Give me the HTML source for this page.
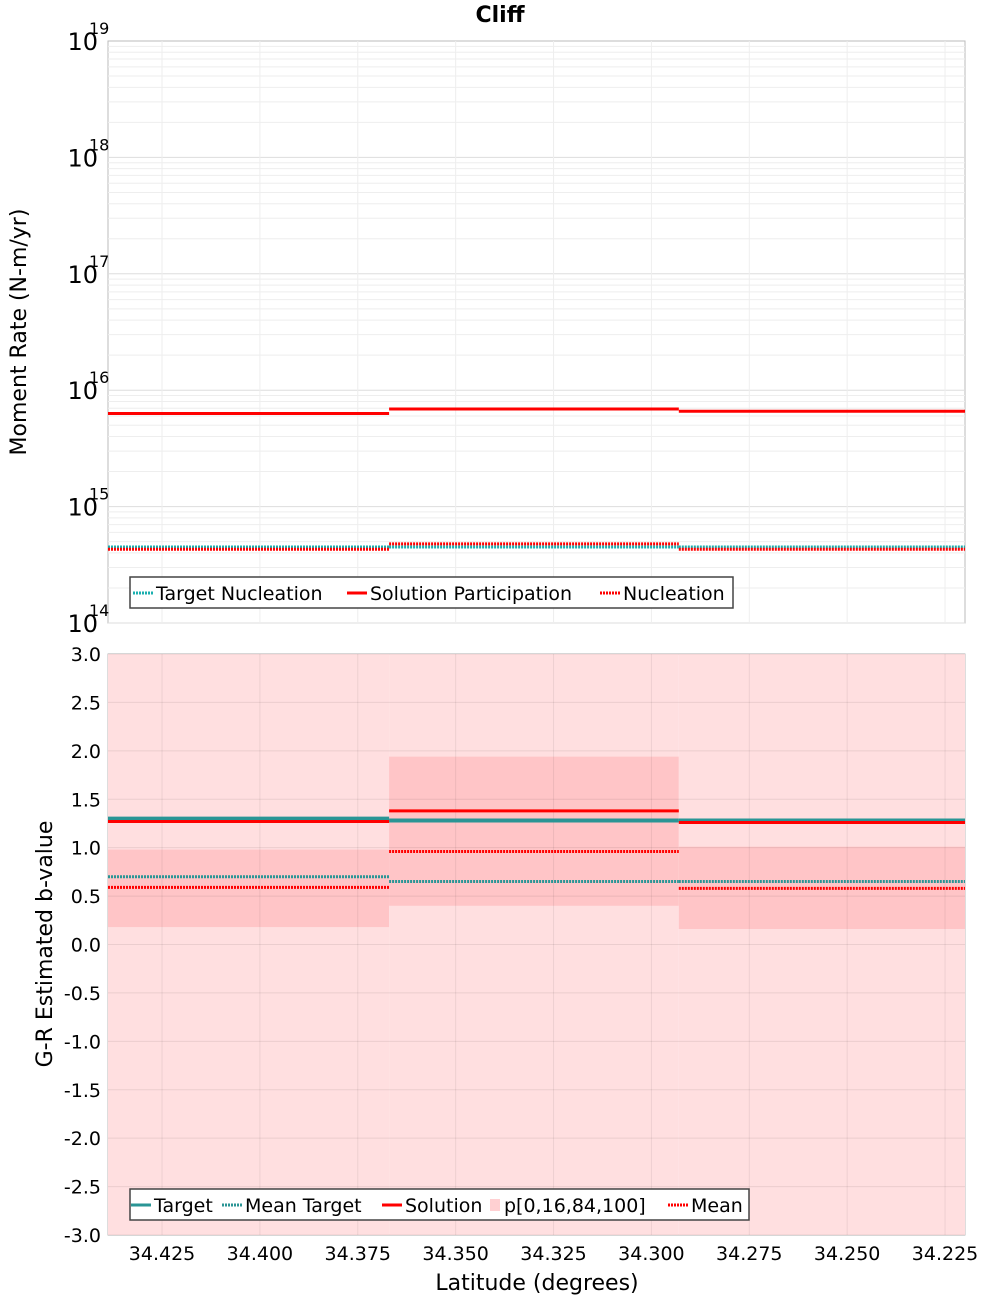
<!DOCTYPE html>
<html><head><meta charset="utf-8"><style>
body{margin:0;background:#fff;font-family:"Liberation Sans","DejaVu Sans",sans-serif}
svg text{font-family:"DejaVu Sans","Liberation Sans",sans-serif}
</style></head><body>
<svg id="c" width="1000" height="1300" xmlns="http://www.w3.org/2000/svg">
<text x="500" y="22" text-anchor="middle" font-size="22" font-weight="bold">Cliff</text>
<text transform="translate(26,332) rotate(-90)" text-anchor="middle" font-size="22">Moment Rate (N-m/yr)</text>
<text transform="translate(52,944) rotate(-90)" text-anchor="middle" font-size="22">G-R Estimated b-value</text>
<text x="537" y="1290" text-anchor="middle" font-size="22">Latitude (degrees)</text>
<g id="topg"></g><g id="botg"></g>
</svg>
<script>
const segEdges=[34.4388,34.367,34.293,34.2199];
const xTicks=[34.425,34.4,34.375,34.35,34.325,34.3,34.275,34.25,34.225];
const topDecades=[14,15,16,17,18,19];
const targetNucleation=[4.5e14,4.5e14,4.5e14];
const solutionParticipation=[6.3e15,6.9e15,6.6e15];
const nucleation=[4.3e14,4.78e14,4.3e14];
const bTicks=[3,2.5,2,1.5,1,0.5,0,-0.5,-1,-1.5,-2,-2.5,-3];
const bTarget=[1.30,1.28,1.28];
const bMeanTarget=[0.70,0.65,0.65];
const bSolution=[1.27,1.38,1.26];
const bMean=[0.59,0.96,0.58];
const bP16=[0.18,0.40,0.16];
const bP84=[0.98,1.94,1.01];
const bP0=[-3,-3,-3];
const bP100=[3,3,3];

const L=108,R=965,T1=41,B1=623,T2=654,B2=1235;
const X=v=>L+(segEdges[0]-v)/(segEdges[0]-segEdges[3])*(R-L);
const YT=v=>B1-(Math.log10(v)-14)/5*(B1-T1);
const YB=v=>B2-(v+3)/6*(B2-T2);
const NS='http://www.w3.org/2000/svg';
function mk(p,tag,a){const e=document.createElementNS(NS,tag);for(const k in a)e.setAttribute(k,a[k]);p.appendChild(e);return e;}
const gTop=document.getElementById('topg'),gBot=document.getElementById('botg');

let r=mk(gTop,'rect',{x:L,y:T1,width:R-L,height:B1-T1,fill:'#fff',stroke:'#bbb'});


for(let d=14;d<19;d++)for(let m=1;m<10;m++){const y=YT(m*Math.pow(10,d));
 mk(gTop,'line',{x1:L,x2:R,y1:y,y2:y,stroke:m==1?'#ddd':'#eee','stroke-width':1});}
xTicks.forEach(t=>{mk(gTop,'line',{x1:X(t),x2:X(t),y1:T1,y2:B1,stroke:'#eee'});});
topDecades.forEach(d=>{const y=YT(Math.pow(10,d));
 const t=mk(gTop,'text',{x:98,y:y+9,'text-anchor':'end','font-size':24});t.textContent='10';
 
 
 const s=mk(gTop,'text',{x:89,y:y-7,'font-size':16});s.textContent=d;});

function steps(g,vals,yf,attrs,name){for(let i=0;i<3;i++){const y=yf(vals[i]);
 const l=mk(g,'line',Object.assign({x1:X(segEdges[i]),x2:X(segEdges[i+1]),y1:y,y2:y},attrs));
 
 }}
steps(gTop,solutionParticipation,YT,{stroke:'#f00','stroke-width':3},'solution-participation-line');
steps(gTop,targetNucleation,YT,{stroke:'#1aafaf','stroke-width':3,'stroke-dasharray':'2 1'},'target-nucleation-line');
steps(gTop,nucleation,YT,{stroke:'#f00','stroke-width':3,'stroke-dasharray':'2 1'},'nucleation-line');

r=mk(gBot,'rect',{x:L,y:T2,width:R-L,height:B2-T2,fill:'#fff',stroke:'#bbb'});


for(let i=0;i<3;i++){const x1=X(segEdges[i]),x2=X(segEdges[i+1]);
 const a=mk(gBot,'rect',{x:x1,y:YB(bP100[i]),width:x2-x1,height:YB(bP0[i])-YB(bP100[i]),fill:'#ffdfe0'});
 
 
 const b=mk(gBot,'rect',{x:x1,y:YB(bP84[i]),width:x2-x1,height:YB(bP16[i])-YB(bP84[i]),fill:'#ffc5c7'});
 
 }
xTicks.forEach(t=>mk(gBot,'line',{x1:X(t),x2:X(t),y1:T2,y2:B2,stroke:'rgba(0,0,0,0.07)'}));
bTicks.forEach(v=>{const y=YB(v);mk(gBot,'line',{x1:L,x2:R,y1:y,y2:y,stroke:'rgba(0,0,0,0.08)'});
 const t=mk(gBot,'text',{x:101,y:y+7,'text-anchor':'end','font-size':19});t.textContent=v.toFixed(1);
 
 });
xTicks.forEach(v=>{const t=mk(gBot,'text',{x:X(v),y:1260,'text-anchor':'middle','font-size':19});t.textContent=v.toFixed(3);
 
 });
steps(gBot,bTarget,YB,{stroke:'#2a9595','stroke-width':4},'target-line');
steps(gBot,bSolution,YB,{stroke:'#f00','stroke-width':3},'solution-line');
steps(gBot,bMeanTarget,YB,{stroke:'#2a9595','stroke-width':3,'stroke-dasharray':'2 1'},'mean-target-line');
steps(gBot,bMean,YB,{stroke:'#f00','stroke-width':3,'stroke-dasharray':'2 1'},'mean-line');

function legend(g,x,y,w,items,name){const lg=mk(g,'g',{});
 
 
 mk(lg,'rect',{x:x,y:y,width:w,height:31,fill:'#fff',stroke:'#444','stroke-width':1.5});
 items.forEach(it=>{const yy=y+16;
  if(it.box)mk(lg,'rect',{x:it.x,y:yy-6,width:10,height:12,fill:it.c});
  else mk(lg,'line',{x1:it.x,x2:it.x+20,y1:yy,y2:yy,stroke:it.c,'stroke-width':3,'stroke-dasharray':it.d?'2 1':'none'});
  const t=mk(lg,'text',{x:it.x+(it.box?14:23),y:yy+7,'font-size':19});t.textContent=it.t;
  
  });}
legend(gTop,130,577,603,[{x:133,c:'#1aafaf',d:1,t:'Target Nucleation'},{x:347,c:'#f00',t:'Solution Participation'},{x:600,c:'#f00',d:1,t:'Nucleation'}],'top-legend');
legend(gBot,130,1189,619,[{x:131,c:'#2a9595',t:'Target'},{x:222,c:'#2a9595',d:1,t:'Mean Target'},{x:382,c:'#f00',t:'Solution'},{x:490,c:'#ffd0d2',box:1,t:'p[0,16,84,100]'},{x:668,c:'#f00',d:1,t:'Mean'}],'bottom-legend');
</script>
</body></html>
